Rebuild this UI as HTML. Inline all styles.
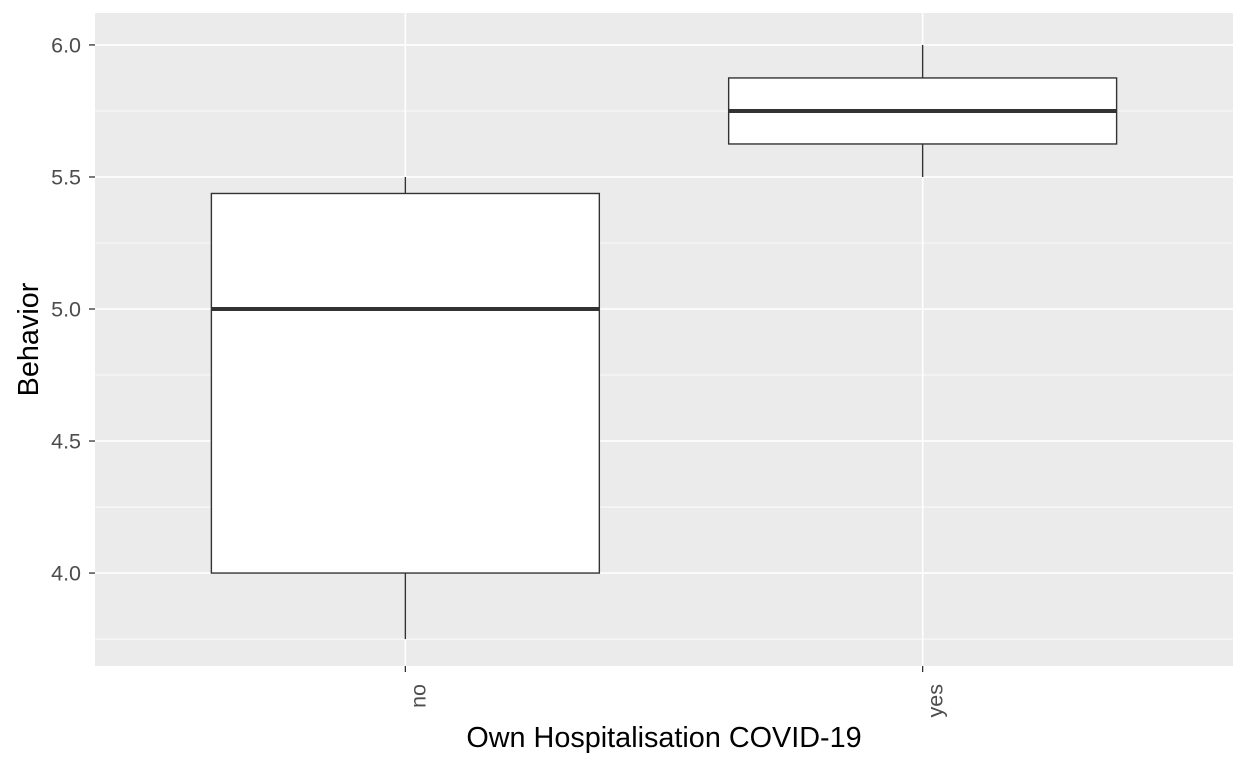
<!DOCTYPE html>
<html><head><meta charset="utf-8"><style>
body{margin:0;background:#fff;}
svg{display:block;font-family:"Liberation Sans",Arial,sans-serif;}
</style></head><body>
<svg id="chart" width="1248" height="768"></svg>
<script>
const categories = ["no","yes"];
const lowerWhisker = [3.75, 5.5];
const q1Values = [4.0, 5.625];
const medianValues = [5.0, 5.75];
const q3Values = [5.4375, 5.875];
const upperWhisker = [5.5, 6.0];
const yTicks = [4.0, 4.5, 5.0, 5.5, 6.0];
const yTickLabels = ["4.0","4.5","5.0","5.5","6.0"];
const yMinor = [3.75, 4.25, 4.75, 5.25, 5.75];

const NS = "http://www.w3.org/2000/svg";
const svg = document.getElementById("chart");
const P = {l:95, r:1233, t:13, b:666};
const yMin = 3.648, yMax = 6.121;
function y(v){ return P.b - (v - yMin) / (yMax - yMin) * (P.b - P.t); }
const step = (P.r - P.l) / (categories.length + 0.2);
function x(i){ return P.l + step * (0.6 + i); }
function el(tag, attrs, parent){
  const e = document.createElementNS(NS, tag);
  for (const k in attrs) e.setAttribute(k, attrs[k]);
  (parent || svg).appendChild(e);
  return e;
}
const panel = el("rect", {x:P.l, y:P.t, width:P.r-P.l, height:P.b-P.t, fill:"#ebebeb"});


yMinor.forEach(v => {
  const g = el("line", {x1:P.l, x2:P.r, y1:y(v), y2:y(v), stroke:"#fff", "stroke-width":0.8});
  
  
});
yTicks.forEach((v, i) => {
  const g = el("line", {x1:P.l, x2:P.r, y1:y(v), y2:y(v), stroke:"#fff", "stroke-width":1.6});
  
  
  const t = el("line", {x1:P.l-6, x2:P.l, y1:y(v), y2:y(v), stroke:"#333", "stroke-width":1.3});
  
  
  const lab = el("text", {x:P.l-14, y:y(v)+7.5, "text-anchor":"end", "font-size":21.5, fill:"#4d4d4d"});
  lab.textContent = yTickLabels[i];
  
  
});
categories.forEach((c, i) => {
  const cx = x(i);
  const g = el("line", {x1:cx, x2:cx, y1:P.t, y2:P.b, stroke:"#fff", "stroke-width":1.6});
  
  
  const t = el("line", {x1:cx, x2:cx, y1:P.b, y2:P.b+6, stroke:"#333", "stroke-width":1.3});
  
  
  const lab = el("text", {x:0, y:0, "text-anchor":"end", "font-size":21.5, fill:"#4d4d4d",
    transform:`translate(${cx+20},${P.b+18}) rotate(-90)`});
  lab.textContent = c;
  
  
  const hw = step * 0.375;
  const wl = el("line", {x1:cx, x2:cx, y1:y(lowerWhisker[i]), y2:y(q1Values[i]), stroke:"#333", "stroke-width":1.4});
  
  
  const wu = el("line", {x1:cx, x2:cx, y1:y(upperWhisker[i]), y2:y(q3Values[i]), stroke:"#333", "stroke-width":1.4});
  
  
  const box = el("rect", {x:cx-hw, y:y(q3Values[i]), width:2*hw, height:y(q1Values[i])-y(q3Values[i]), fill:"#fff", stroke:"#333", "stroke-width":1.4});
  
  
  const med = el("line", {x1:cx-hw, x2:cx+hw, y1:y(medianValues[i]), y2:y(medianValues[i]), stroke:"#333", "stroke-width":4});
  
  
});
const xt = el("text", {x:(P.l+P.r)/2, y:747, "text-anchor":"middle", "font-size":28.8, fill:"#000"});
xt.textContent = "Own Hospitalisation COVID-19";


const yt = el("text", {x:0, y:0, "text-anchor":"middle", "font-size":28.8, fill:"#000",
  transform:`translate(38,${(P.t+P.b)/2}) rotate(-90)`});
yt.textContent = "Behavior";


</script>
</body></html>
